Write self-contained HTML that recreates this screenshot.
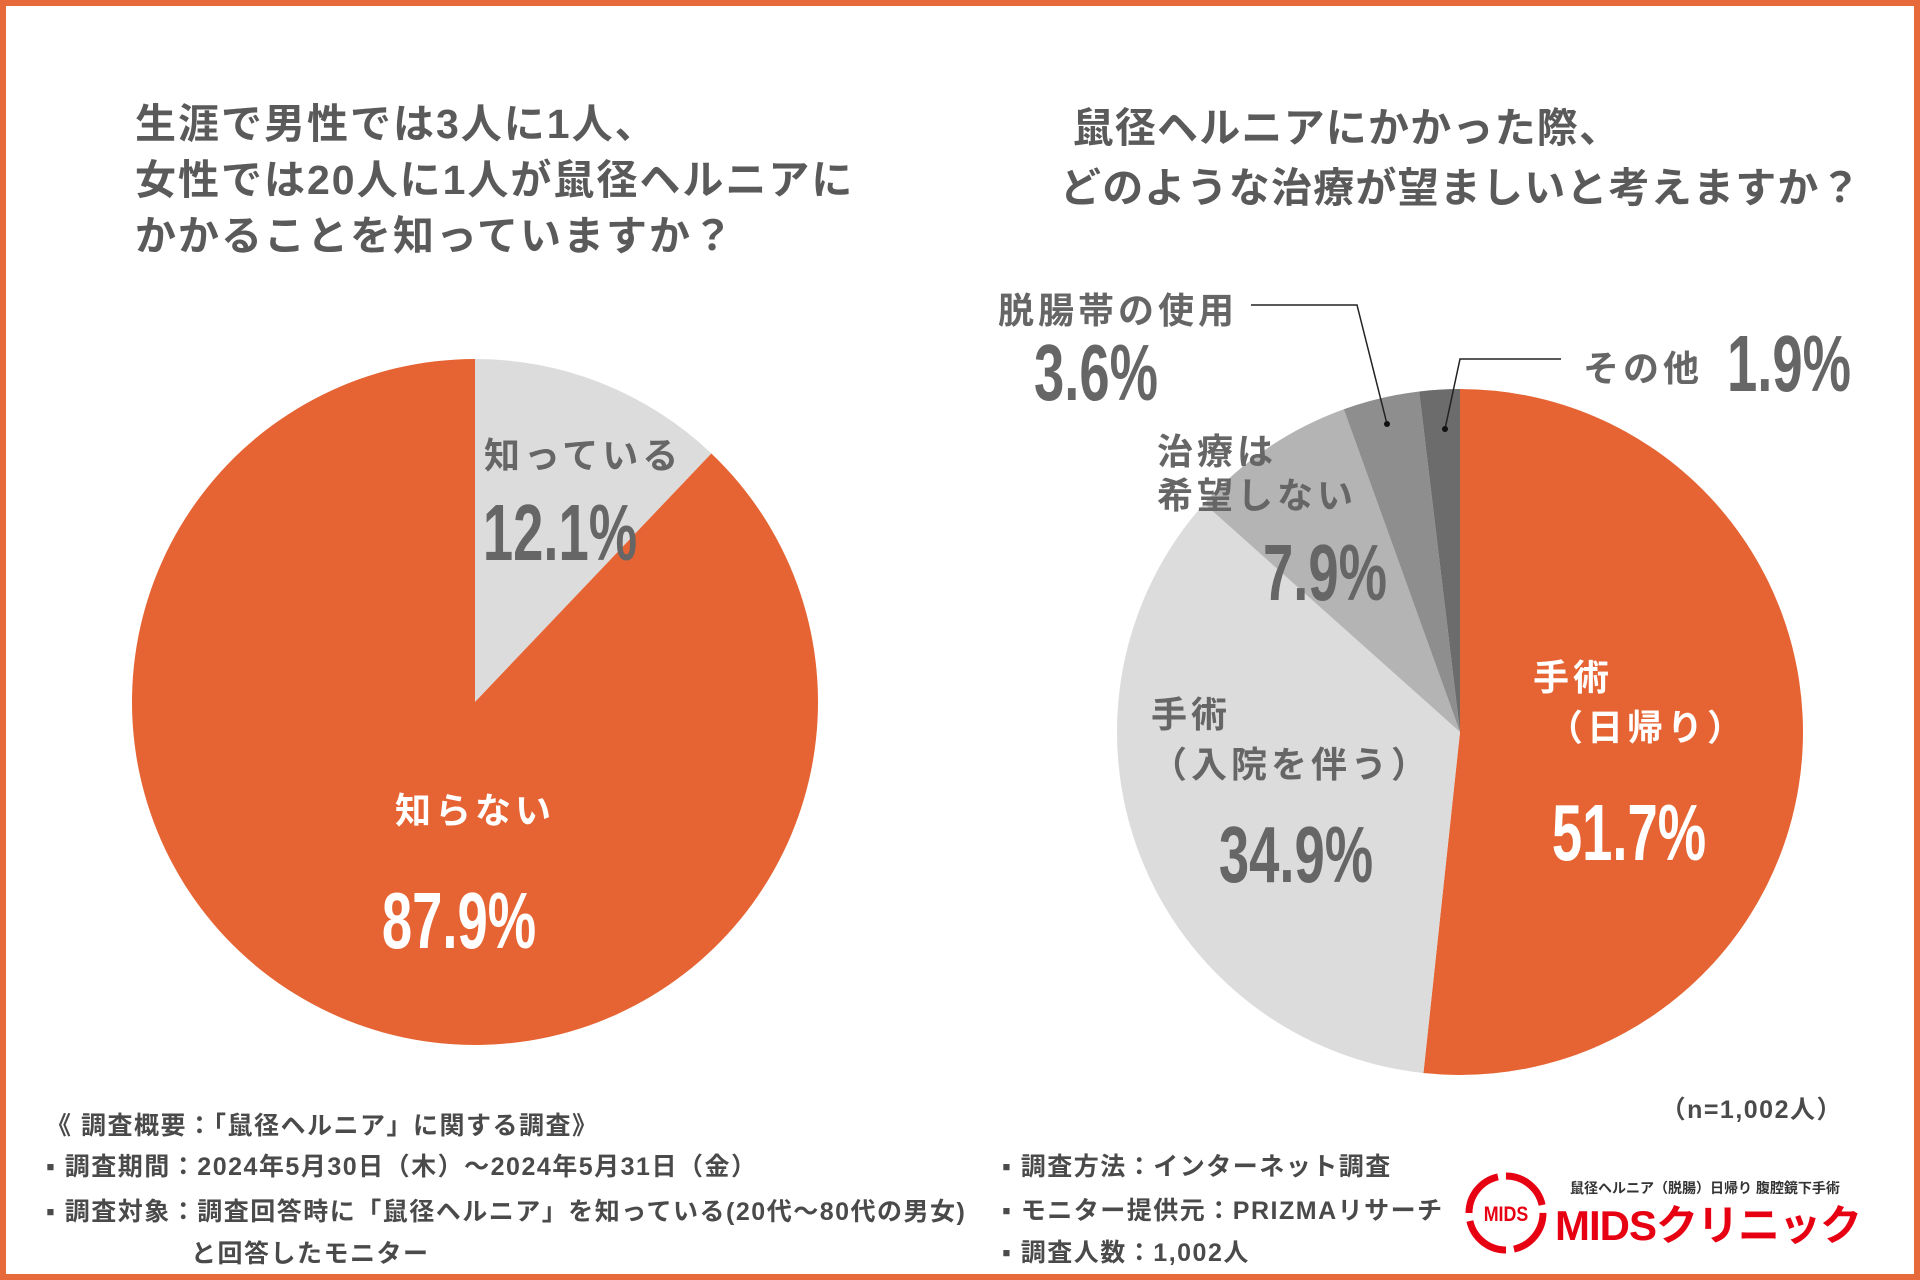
<!DOCTYPE html>
<html><head><meta charset="utf-8"><style>
body{margin:0;width:1920px;height:1280px;overflow:hidden;background:#fff;font-family:"Liberation Sans","Noto Sans CJK JP",sans-serif}
#frame{position:absolute;left:0;top:0;width:1920px;height:1280px;box-sizing:border-box;border:6px solid #e66a3a}
.t{position:absolute;font-weight:bold;color:#5a5a5a;white-space:nowrap}
.l{letter-spacing:4px}
.n{position:absolute;font-family:"Liberation Sans",sans-serif;font-weight:bold;white-space:nowrap;transform:translate(-50%,-50%) scaleX(0.68)}
.f{position:absolute;font-weight:bold;color:#4a4a4a;font-size:25px;letter-spacing:1.5px;white-space:nowrap}
</style></head><body>
<div id="frame"></div>
<svg id="svg" width="1920" height="1280" style="position:absolute;left:0;top:0">
<g id="pieL"></g>
<g id="pieR"></g>
<polyline points="1251,305 1357,305 1387,424" fill="none" stroke="#222" stroke-width="1.5"/>
<circle cx="1387" cy="424" r="3" fill="#111"/>
<polyline points="1561,359 1460,359 1445,429" fill="none" stroke="#222" stroke-width="1.5"/>
<circle cx="1445" cy="429" r="3" fill="#111"/>
<g>
<circle cx="1506" cy="1213" r="37" fill="none" stroke="#e60012" stroke-width="7" stroke-dasharray="50 8"/>
<text x="1506" y="1221" text-anchor="middle" font-size="21" font-weight="bold" fill="#e60012" font-family="Liberation Sans, sans-serif" transform="translate(1506 0) scale(0.85 1) translate(-1506 0)">MIDS</text>
</g>
</svg>
<div class="t" style="left:135px;top:96px;font-size:41px;letter-spacing:2px;line-height:56px">生涯で男性では3人に1人、<br>女性では20人に1人が鼠径ヘルニアに<br>かかることを知っていますか？</div>
<div class="t" style="left:1060px;top:98px;font-size:41px;letter-spacing:1.2px;line-height:60px">&nbsp;鼠径ヘルニアにかかった際、<br>どのような治療が望ましいと考えますか？</div>

<div class="t l" style="left:484px;top:427px;font-size:36px;color:#666">知っている</div>
<div class="n" style="left:560px;top:533px;font-size:80px;color:#666">12.1%</div>
<div class="t l" style="left:475px;top:808px;font-size:36px;color:#fff;transform:translate(-50%,-50%)">知らない</div>
<div class="n" style="left:459px;top:921px;font-size:80px;color:#fff">87.9%</div>

<div class="t l" style="left:998px;top:282px;font-size:36px;color:#666">脱腸帯の使用</div>
<div class="n" style="left:1096px;top:373px;font-size:80px;color:#666">3.6%</div>
<div class="t l" style="left:1583px;top:340px;font-size:36px;color:#666">その他</div>
<div class="n" style="left:1789px;top:364px;font-size:80px;color:#666">1.9%</div>
<div class="t l" style="left:1157px;top:430px;font-size:36px;line-height:44px;color:#666">治療は<br>希望しない</div>
<div class="n" style="left:1325px;top:573px;font-size:80px;color:#666">7.9%</div>
<div class="t l" style="left:1151px;top:690px;font-size:36px;line-height:50px;color:#666">手術<br>（入院を伴う）</div>
<div class="n" style="left:1296px;top:855px;font-size:80px;color:#666">34.9%</div>
<div class="t l" style="left:1533px;top:653px;font-size:36px;line-height:50px;color:#fff">手術<br>&nbsp;（日帰り）</div>
<div class="n" style="left:1629px;top:833px;font-size:80px;color:#fff">51.7%</div>

<div class="f" style="right:77px;top:1090px">（n=1,002人）</div>
<div class="f" style="left:46px;top:1106px">《 調査概要：「鼠径ヘルニア」に関する調査》</div>
<div class="f" style="left:46px;top:1147px">▪ 調査期間：2024年5月30日（木）～2024年5月31日（金）</div>
<div class="f" style="left:46px;top:1191px;line-height:42px">▪ 調査対象：調査回答時に「鼠径ヘルニア」を知っている(20代～80代の男女)<br><span style="padding-left:145px">と回答したモニター</span></div>
<div class="f" style="left:1002px;top:1147px">▪ 調査方法：インターネット調査</div>
<div class="f" style="left:1002px;top:1191px">▪ モニター提供元：PRIZMAリサーチ</div>
<div class="f" style="left:1002px;top:1233px">▪ 調査人数：1,002人</div>
<div class="t" style="left:1570px;top:1178px;font-size:14px;color:#333">鼠径ヘルニア（脱腸）日帰り 腹腔鏡下手術</div>
<div class="t" style="left:1555px;top:1192px;font-size:42px;color:#e60012;letter-spacing:-1px">MIDSクリニック</div>
<script>
const leftCats=["知っている","知らない"];
const leftValues=[12.1,87.9];
const rightCats=["手術（日帰り）","手術（入院を伴う）","治療は希望しない","脱腸帯の使用","その他"];
const rightValues=[51.7,34.9,7.9,3.6,1.9];
const leftColors=["#dcdcdc","#e66433"];
const rightColors=["#e66433","#dcdcdc","#b4b4b4","#8e8e8e","#6c6c6c"];
const NS="http://www.w3.org/2000/svg";
function pie(gid,vals,cols,cx,cy,r,names){
  const g=document.getElementById(gid);
  const tot=vals.reduce((a,b)=>a+b,0);
  let a0=0;
  vals.forEach((v,i)=>{
    const a1=a0+v/tot*Math.PI*2;
    const x0=cx+r*Math.sin(a0),y0=cy-r*Math.cos(a0),x1=cx+r*Math.sin(a1),y1=cy-r*Math.cos(a1);
    const p=document.createElementNS(NS,"path");
    p.setAttribute("d",`M${cx},${cy}L${x0},${y0}A${r},${r} 0 ${a1-a0>Math.PI?1:0} 1 ${x1},${y1}Z`);
    p.setAttribute("fill",cols[i]);
    
    
    g.appendChild(p);
    a0=a1;
  });
}
pie("pieL",leftValues,leftColors,475,702,343,leftCats);
pie("pieR",rightValues,rightColors,1460,732,343,rightCats);
</script>
</body></html>
